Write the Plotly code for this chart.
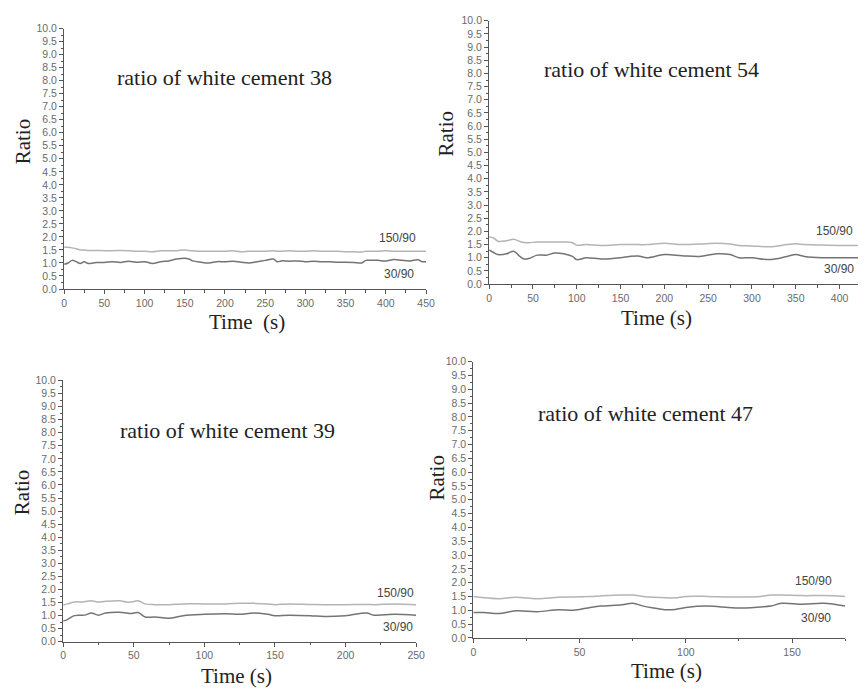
import plotly.graph_objects as go

# ---- data ----
t1 = [0, 5, 10, 15, 20, 25, 30, 40, 50, 60, 70, 80, 90, 100, 110, 120, 130, 140, 150, 155, 160, 170, 180, 190, 200, 210, 220, 230, 240, 250, 260, 265, 270, 280, 290, 300, 310, 320, 330, 340, 350, 360, 370, 375, 380, 390, 400, 410, 420, 430, 440, 445, 450]
hi1 = [1.6, 1.6, 1.58, 1.55, 1.5, 1.5, 1.48, 1.48, 1.47, 1.47, 1.48, 1.47, 1.45, 1.45, 1.43, 1.47, 1.47, 1.47, 1.5, 1.48, 1.47, 1.45, 1.45, 1.45, 1.45, 1.47, 1.43, 1.45, 1.45, 1.45, 1.47, 1.45, 1.45, 1.47, 1.45, 1.45, 1.47, 1.45, 1.45, 1.45, 1.43, 1.43, 1.42, 1.45, 1.45, 1.45, 1.47, 1.45, 1.45, 1.45, 1.45, 1.45, 1.45]
lo1 = [0.95, 1.0, 1.1, 1.05, 0.98, 1.05, 0.98, 1.02, 1.02, 1.05, 1.02, 1.07, 1.03, 1.05, 0.98, 1.05, 1.08, 1.15, 1.18, 1.15, 1.08, 1.03, 1.0, 1.05, 1.05, 1.07, 1.03, 1.0, 1.05, 1.1, 1.15, 1.05, 1.08, 1.07, 1.08, 1.05, 1.07, 1.05, 1.05, 1.03, 1.03, 1.02, 1.0, 1.1, 1.1, 1.1, 1.08, 1.13, 1.1, 1.08, 1.12, 1.05, 1.05]

t2 = [0, 5, 10, 20, 28, 35, 40, 45, 55, 65, 75, 85, 95, 100, 105, 110, 130, 150, 160, 170, 180, 200, 220, 240, 260, 275, 285, 300, 320, 340, 350, 360, 380, 400, 421]
hi2 = [1.8, 1.75, 1.63, 1.65, 1.7, 1.62, 1.58, 1.57, 1.6, 1.6, 1.6, 1.6, 1.57, 1.48, 1.48, 1.5, 1.47, 1.5, 1.5, 1.5, 1.5, 1.55, 1.5, 1.52, 1.55, 1.52, 1.47, 1.45, 1.42, 1.5, 1.53, 1.5, 1.48, 1.47, 1.47]
lo2 = [1.3, 1.2, 1.12, 1.15, 1.25, 1.05, 0.95, 0.97, 1.1, 1.1, 1.18, 1.15, 1.05, 0.93, 0.95, 1.0, 0.95, 1.0, 1.05, 1.07, 1.0, 1.12, 1.08, 1.05, 1.15, 1.12, 1.0, 1.0, 0.93, 1.05, 1.12, 1.05, 1.0, 1.0, 1.0]

t3 = [0, 3, 8, 15, 20, 25, 30, 40, 45, 48, 53, 58, 65, 75, 85, 100, 115, 125, 135, 145, 150, 160, 175, 185, 200, 215, 220, 235, 250]
hi3 = [1.4, 1.45, 1.52, 1.53, 1.57, 1.52, 1.55, 1.57, 1.52, 1.52, 1.57, 1.45, 1.42, 1.42, 1.45, 1.45, 1.45, 1.47, 1.47, 1.45, 1.42, 1.45, 1.43, 1.42, 1.42, 1.43, 1.42, 1.45, 1.42]
lo3 = [0.8, 0.85, 1.0, 1.02, 1.1, 1.02, 1.1, 1.13, 1.1, 1.08, 1.12, 0.95, 0.95, 0.9, 1.0, 1.05, 1.07, 1.05, 1.1, 1.05, 1.0, 1.02, 1.0, 0.97, 1.0, 1.1, 1.02, 1.05, 1.02]

t4 = [0, 5, 12, 20, 30, 40, 47, 55, 60, 70, 75, 80, 85, 90, 95, 100, 110, 120, 125, 135, 140, 145, 155, 165, 175]
hi4 = [1.5, 1.45, 1.42, 1.47, 1.42, 1.47, 1.48, 1.5, 1.52, 1.55, 1.55, 1.5, 1.47, 1.45, 1.45, 1.5, 1.5, 1.48, 1.48, 1.5, 1.55, 1.55, 1.53, 1.53, 1.5]
lo4 = [0.92, 0.92, 0.88, 0.98, 0.95, 1.02, 1.0, 1.1, 1.15, 1.2, 1.25, 1.15, 1.08, 1.02, 1.03, 1.1, 1.15, 1.1, 1.08, 1.12, 1.15, 1.25, 1.22, 1.25, 1.15]

titles = ["ratio of white cement 38", "ratio of white cement 54",
          "ratio of white cement 39", "ratio of white cement 47"]
xtitles = ["Time  (s)", "Time (s)", "Time (s)", "Time (s)"]
hi_label = "150/90"
lo_label = "30/90"

series = [(t1, hi1, lo1), (t2, hi2, lo2), (t3, hi3, lo3), (t4, hi4, lo4)]

# ---- layout geometry ----
W, H = 867, 693
panels = [
    dict(xd=(62, 429), yd=(288, 23), xr=(0, 450), xt=50, title=(225, 73), ytl=(20, 138), xtl=(247, 322), lab_hi=(414, 1.96), lab_lo=(416, 0.57)),
    dict(xd=(493, 867), yd=(283, 15), xr=(0, 421), xt=50, title=(658, 65), ytl=(449, 130), xtl=(663, 318), lab_hi=(394, 2.0), lab_lo=(399, 0.56)),
    dict(xd=(61, 419), yd=(647, 381), xr=(0, 250), xt=50, title=(228, 432), ytl=(20, 495), xtl=(237, 682), lab_hi=(235, 1.88), lab_lo=(237, 0.56)),
    dict(xd=(477, 854), yd=(643, 362), xr=(0, 175), xt=50, title=(652, 415), ytl=(440, 480), xtl=(673, 677), lab_hi=(160, 2.06), lab_lo=(161.5, 0.71)),
]

HI_COLOR = "#b4b4b4"
LO_COLOR = "#747474"
AX_COLOR = "#555555"
TICK_FONT = dict(family="Liberation Sans, Arial", size=10.5, color="#6a6a6a")
SERIF = "Liberation Serif, Times New Roman"

fig = go.Figure()
layout = dict(width=W, height=H, margin=dict(l=0, r=0, t=0, b=0),
              paper_bgcolor="white", plot_bgcolor="white", showlegend=False)
annotations = []

for i, (p, (t, hi, lo)) in enumerate(zip(panels, series)):
    n = "" if i == 0 else str(i + 1)
    xa, ya = "x" + n, "y" + n
    fig.add_trace(go.Scatter(x=t, y=hi, mode="lines", line=dict(color=HI_COLOR, width=1.5),
                             xaxis=xa, yaxis=ya, line_shape="spline"))
    fig.add_trace(go.Scatter(x=t, y=lo, mode="lines", line=dict(color=LO_COLOR, width=1.5),
                             xaxis=xa, yaxis=ya, line_shape="spline"))
    layout["xaxis" + n] = dict(
        domain=[p["xd"][0] / W, p["xd"][1] / W], range=list(p["xr"]), anchor=ya,
        showline=True, linecolor=AX_COLOR, linewidth=1.2, showgrid=False, zeroline=False,
        ticks="outside", ticklen=4, tickcolor=AX_COLOR, dtick=p["xt"], tick0=0,
        minor=dict(ticks="outside", ticklen=2.5, dtick=p["xt"] / 2, tickcolor=AX_COLOR),
        tickfont=TICK_FONT, fixedrange=True)
    layout["yaxis" + n] = dict(
        domain=[1 - p["yd"][0] / H, 1 - p["yd"][1] / H], range=[0, 10], anchor=xa,
        showline=True, linecolor=AX_COLOR, linewidth=1.2, showgrid=False, zeroline=False,
        ticks="outside", ticklen=4, tickcolor=AX_COLOR, dtick=0.5, tick0=0, tickformat=".1f",
        minor=dict(ticks="outside", ticklen=2.5, dtick=0.25, tickcolor=AX_COLOR),
        tickfont=TICK_FONT, fixedrange=True)
    annotations.append(dict(text=titles[i], x=p["title"][0] / W, y=1 - p["title"][1] / H,
                            xref="paper", yref="paper", showarrow=False,
                            font=dict(family=SERIF, size=22, color="#222222"),
                            xanchor="center", yanchor="middle"))
    annotations.append(dict(text="Ratio", x=p["ytl"][0] / W, y=1 - p["ytl"][1] / H,
                            xref="paper", yref="paper", showarrow=False, textangle=-90,
                            font=dict(family=SERIF, size=21, color="#222222"),
                            xanchor="center", yanchor="middle"))
    annotations.append(dict(text=xtitles[i], x=p["xtl"][0] / W, y=1 - p["xtl"][1] / H,
                            xref="paper", yref="paper", showarrow=False,
                            font=dict(family=SERIF, size=21, color="#222222"),
                            xanchor="center", yanchor="middle"))
    annotations.append(dict(text=hi_label, x=p["lab_hi"][0], y=p["lab_hi"][1], xref=xa, yref=ya,
                            showarrow=False, font=dict(family="Liberation Sans, Arial", size=12, color="#444444"),
                            xanchor="center", yanchor="middle"))
    annotations.append(dict(text=lo_label, x=p["lab_lo"][0], y=p["lab_lo"][1], xref=xa, yref=ya,
                            showarrow=False, font=dict(family="Liberation Sans, Arial", size=12, color="#444444"),
                            xanchor="center", yanchor="middle"))

layout["annotations"] = annotations
fig.update_layout(**layout)
fig.write_html("out.html")
